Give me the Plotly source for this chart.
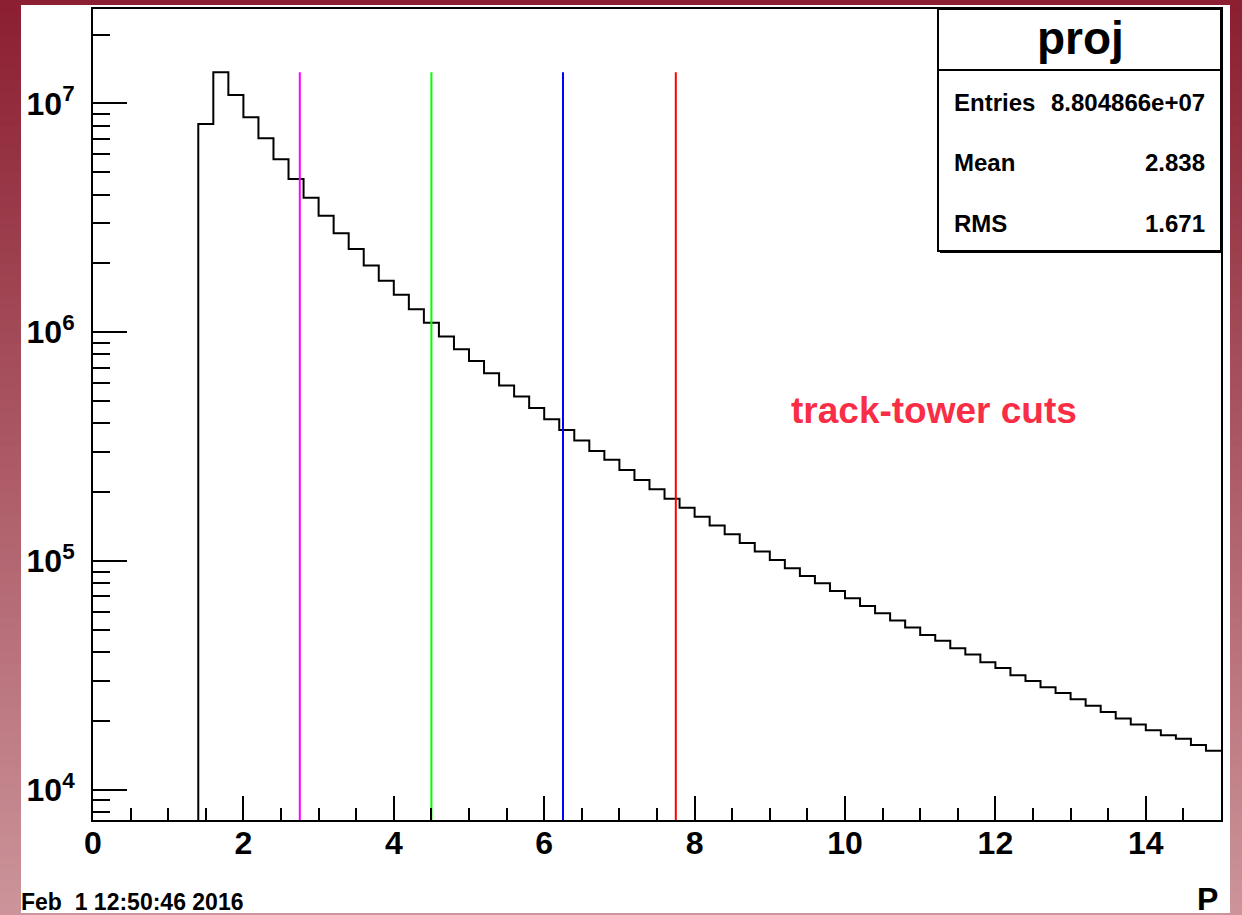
import plotly.graph_objects as go
import numpy as np

# ---------------- data ----------------
bin_width = 0.2
bin_start = 1.4
counts = [
    8.13e6, 1.37e7, 1.09e7, 8.71e6, 7.05e6, 5.71e6, 4.68e6, 3.87e6, 3.23e6, 2.71e6,
    2.31e6, 1.96e6, 1.68e6, 1.46e6, 1.26e6, 1.10e6, 9.57e5, 8.43e5, 7.49e5, 6.62e5,
    5.85e5, 5.24e5, 4.66e5, 4.17e5, 3.74e5, 3.36e5, 3.03e5, 2.77e5, 2.50e5, 2.26e5,
    2.06e5, 1.87e5, 1.71e5, 1.56e5, 1.43e5, 1.31e5, 1.20e5, 1.10e5, 1.01e5, 9.30e4,
    8.61e4, 8.00e4, 7.40e4, 6.88e4, 6.36e4, 5.91e4, 5.49e4, 5.12e4, 4.75e4, 4.48e4,
    4.16e4, 3.90e4, 3.61e4, 3.41e4, 3.17e4, 2.99e4, 2.81e4, 2.65e4, 2.49e4, 2.33e4,
    2.19e4, 2.05e4, 1.93e4, 1.82e4, 1.73e4, 1.67e4, 1.57e4, 1.48e4,
]
cut_values = [2.75, 4.5, 6.25, 7.75]
cut_colors = ["#ff00ff", "#00ff00", "#0000ff", "#ff0000"]
x_tick_vals = [0, 2, 4, 6, 8, 10, 12, 14]
y_tick_vals = [1e4, 1e5, 1e6, 1e7]
y_tick_text = ["10<sup>4</sup>", "10<sup>5</sup>", "10<sup>6</sup>", "10<sup>7</sup>"]
stats_title = "proj"
stats_labels = ["Entries", "Mean", "RMS"]
stats_values = ["8.804866e+07", "2.838", "1.671"]
date_text = "Feb  1 12:50:46 2016"
x_title = "P"
annot_text = "track-tower cuts"

# ---------------- geometry ----------------
W, H = 1242, 915
def px(x):
    return x / W
def py(y):
    return 1 - y / H

x_range = [0, 15]
y_log_range = [3.868, 7.413]
y_floor = 10 ** (y_log_range[0] - 1)

FONT = "Liberation Sans, Arial, Helvetica, sans-serif"

edges = [bin_start + bin_width * i for i in range(len(counts) + 1)]
hx = [edges[0]] + edges[:-1] + [edges[-1]]
hy = [y_floor] + counts + [counts[-1]]

fig = go.Figure()

fig.add_trace(go.Scatter(
    x=hx, y=hy, mode="lines", line=dict(color="black", width=2, shape="hv"),
    hoverinfo="skip", showlegend=False,
))

ymax = max(counts)
for c, col in zip(cut_values, cut_colors):
    fig.add_trace(go.Scatter(
        x=[c, c], y=[y_floor, ymax], mode="lines",
        line=dict(color=col, width=2), showlegend=False, hoverinfo="skip",
    ))

shapes = []
# gradient background
n_strips = 80
top_rgb = np.array([140, 32, 50])
bot_rgb = np.array([204, 148, 154])
for i in range(n_strips):
    t = i / (n_strips - 1)
    rgb = (top_rgb * (1 - t) + bot_rgb * t).astype(int)
    shapes.append(dict(
        type="rect", xref="paper", yref="paper", layer="below",
        x0=0, x1=1, y0=1 - (i + 1) / n_strips - 0.002, y1=1 - i / n_strips,
        fillcolor=f"rgb({rgb[0]},{rgb[1]},{rgb[2]})", line=dict(width=0),
    ))
# white canvas
shapes.append(dict(type="rect", xref="paper", yref="paper", layer="below",
                   x0=px(21), x1=px(1230), y0=py(913), y1=py(5),
                   fillcolor="white", line=dict(width=0)))
# stats box shadow + box
shapes.append(dict(type="rect", xref="paper", yref="paper",
                   x0=px(940), x1=px(1223), y0=py(253), y1=py(11),
                   fillcolor="black", line=dict(width=0)))
shapes.append(dict(type="rect", xref="paper", yref="paper",
                   x0=px(938), x1=px(1221), y0=py(251), y1=py(9),
                   fillcolor="white", line=dict(color="black", width=2)))
shapes.append(dict(type="line", xref="paper", yref="paper",
                   x0=px(938), x1=px(1221), y0=py(70), y1=py(70),
                   line=dict(color="black", width=2)))

def ann(text, x, y, size, xanchor="center", color="black"):
    return dict(text=f"<b>{text}</b>", xref="paper", yref="paper",
                x=px(x), y=py(y), xanchor=xanchor, yanchor="middle",
                showarrow=False, borderpad=0,
                font=dict(family=FONT, size=size, color=color))

annotations = [ann(stats_title, 1080, 38, 46)]
row_y = [103, 163, 223]
for lab, val, ry in zip(stats_labels, stats_values, row_y):
    annotations.append(ann(lab, 953, ry, 24, "left"))
    annotations.append(ann(val, 1206, ry, 24, "right"))
annotations.append(ann(annot_text, 934, 410, 37, "center", "#fa2d46"))
annotations.append(ann(date_text, 20, 902, 23, "left"))
annotations.append(ann(x_title, 1219, 899, 32, "right"))

fig.update_layout(
    template="none",
    width=W, height=H, margin=dict(l=0, r=0, t=0, b=0, pad=0), autosize=False,
    paper_bgcolor="rgb(170,90,100)", plot_bgcolor="white",
    shapes=shapes, annotations=annotations, showlegend=False,
    xaxis=dict(
        domain=[px(93), px(1221)], range=x_range, showgrid=False, zeroline=False,
        automargin=False,
        showline=True, linecolor="black", linewidth=2, mirror=True,
        ticks="inside", ticklen=24, tickwidth=2, tickcolor="black",
        tickvals=x_tick_vals, ticklabelstandoff=-6,
        tickfont=dict(family=FONT, size=32, color="black", weight="bold"),
        minor=dict(dtick=0.5, ticks="inside", ticklen=12, tickwidth=2, tickcolor="black",
                   showgrid=False),
    ),
    yaxis=dict(
        domain=[py(820), py(9)], type="log", range=y_log_range, showgrid=False,
        zeroline=False, automargin=False,
        showline=True, linecolor="black", linewidth=2, mirror=True,
        ticks="inside", ticklen=34, tickwidth=2, tickcolor="black",
        tickvals=y_tick_vals, ticktext=y_tick_text, ticklabelstandoff=10,
        tickfont=dict(family=FONT, size=32, color="black", weight="bold"),
        minor=dict(dtick="D1", ticks="inside", ticklen=17, tickwidth=2, tickcolor="black",
                   showgrid=False),
    ),
)

fig.write_html("out.html", config={"displayModeBar": False},
               post_script="document.body.style.margin='0';document.body.style.overflow='hidden';")
